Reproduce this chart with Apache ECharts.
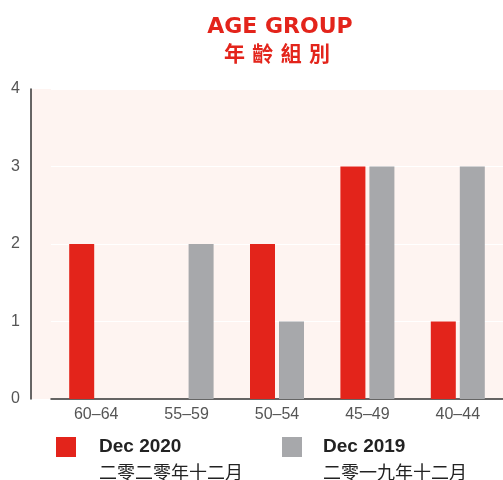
<!DOCTYPE html>
<html>
<head>
<meta charset="utf-8">
<script src="https://cdn.jsdelivr.net/npm/echarts@6/dist/echarts.min.js"></script>
<style>
  html, body { margin: 0; padding: 0; background: #fff; }
  #chart { width: 503px; height: 480px; }
</style>
</head>
<body>
<div id="chart"></div>
<script>
var categories = ["60–64", "55–59", "50–54", "45–49", "40–44"];
var dec2020 = [2, null, 2, 3, 1];
var dec2019 = [null, 2, 1, 3, 3];
var yTicks = [0, 1, 2, 3, 4];
var seriesNames = ["Dec 2020", "Dec 2019"];
var seriesNamesZh = { "Dec 2020": "二零二零年十二月", "Dec 2019": "二零一九年十二月" };

var RED = "#e3241b";
var GREY = "#a7a8ab";
var FONT = "'Liberation Sans', Arial, 'Noto Sans CJK TC', sans-serif";
var ZH_FONT = "'DejaVu Sans', 'Noto Sans CJK TC', sans-serif";

var myChart = echarts.init(document.getElementById("chart"));

// one legend block per series: English line with the swatch, Chinese line below it
function legendBlock(name, left, top, zh, padLeft) {
  return {
    data: [name],
    left: left,
    top: top,
    padding: 0,
    itemWidth: 20,
    itemHeight: 20,
    icon: "rect",
    itemStyle: zh ? { opacity: 0 } : {},
    formatter: zh ? function(n) { return seriesNamesZh[n]; } : "{name}",
    textStyle: zh
      ? { fontSize: 18, color: "#222", padding: [0, 0, 0, padLeft], fontFamily: "'Noto Sans CJK TC', sans-serif" }
      : { fontSize: 19, fontWeight: "bold", color: "#222", padding: [0, 0, 0, padLeft], fontFamily: FONT }
  };
}

var option = {
  animation: false,
  textStyle: { fontFamily: FONT },
  title: [
    {
      text: "AGE GROUP",
      left: 275,
      top: 11,
      textAlign: "center",
      textStyle: { color: RED, fontSize: 22, fontWeight: "bold", fontFamily: "'DejaVu Sans', sans-serif" }
    },
    {
      text: "年 齡 組 別",
      left: 272,
      top: 40,
      textAlign: "center",
      textStyle: { color: RED, fontSize: 21, fontWeight: "bold", fontFamily: ZH_FONT }
    }
  ],
  // pink backdrop for the strip between the y axis and the first band
  graphic: [
    {
      type: "rect",
      z: -1,
      shape: { x: 31, y: 89, width: 21, height: 310 },
      style: { fill: "#fef4f1" }
    }
  ],
  grid: {
    left: 51,
    right: -2,
    top: 89,
    bottom: 81,
    show: true,
    backgroundColor: "#fef4f1",
    borderWidth: 0
  },
  legend: [
    legendBlock(seriesNames[0], 56, 437, false, 18),
    legendBlock(seriesNames[1], 282, 437, false, 16),
    legendBlock(seriesNames[0], 56, 462, true, 18),
    legendBlock(seriesNames[1], 282, 462, true, 16)
  ],
  xAxis: {
    type: "category",
    data: categories,
    axisLine: { show: true, lineStyle: { color: "#333", width: 1.5 } },
    axisTick: { show: false },
    axisLabel: { color: "#555", fontSize: 16, margin: 8, fontFamily: FONT }
  },
  yAxis: {
    type: "value",
    min: yTicks[0],
    max: yTicks[yTicks.length - 1],
    interval: 1,
    offset: 20,
    axisLine: { show: true, lineStyle: { color: "#333", width: 1.5 } },
    axisTick: { show: false },
    axisLabel: { color: "#555", fontSize: 16, margin: 11, fontFamily: FONT },
    splitLine: { show: true, lineStyle: { color: "#ffffff", width: 1 } }
  },
  series: [
    {
      name: seriesNames[0],
      type: "bar",
      data: dec2020,
      barWidth: 25,
      barGap: "16%",
      itemStyle: { color: RED }
    },
    {
      name: seriesNames[1],
      type: "bar",
      data: dec2019,
      barWidth: 25,
      barGap: "16%",
      itemStyle: { color: GREY }
    }
  ]
};

myChart.setOption(option);
</script>
</body>
</html>
